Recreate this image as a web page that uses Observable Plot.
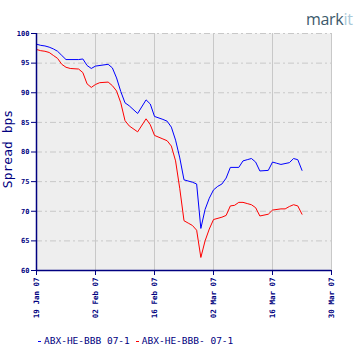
<!DOCTYPE html>
<html>
<head>
<meta charset="utf-8">
<script src="https://cdn.jsdelivr.net/npm/d3@7"></script>
<script src="https://cdn.jsdelivr.net/npm/@observablehq/plot@0.6"></script>
<style>
  body { margin: 0; background: #fff; }
  #wrap { position: relative; width: 360px; height: 360px; overflow: hidden; }
  #chart { position: absolute; left: 0; top: 0; }
  #logo { position: absolute; left: 306px; top: 8px; font: 16px "Open Sans", sans-serif; color: #3d5a6c; letter-spacing: -0.3px; }
  #logo span { color: #a9c9d9; }
  #legend { position: absolute; left: 38px; top: 335px; font: 9.5px "DejaVu Sans Mono", monospace; color: #000080; white-space: nowrap; }
  #legend .sw { display: inline-block; width: 3px; height: 1px; vertical-align: middle; margin-right: 3px; }
  svg text { font-family: "DejaVu Sans Mono", monospace; }
</style>
</head>
<body>
<div id="wrap">
  <div id="chart"></div>
  <div id="logo">mark<span>it</span></div>
  <div id="legend"></div>
</div>
<script>
const seriesNames = ["ABX-HE-BBB 07-1", "ABX-HE-BBB- 07-1"];
const seriesColors = ["#0000ff", "#ff0000"];
const xTickLabels = ["2007-01-19", "2007-02-02", "2007-02-16", "2007-03-02", "2007-03-16", "2007-03-30"];
const yTicks = [60, 65, 70, 75, 80, 85, 90, 95, 100];

const blueDates = ["2007-01-19","2007-01-20","2007-01-21","2007-01-22","2007-01-23","2007-01-24","2007-01-25","2007-01-26",
  "2007-01-29","2007-01-30","2007-01-31","2007-02-01","2007-02-02","2007-02-05","2007-02-06","2007-02-07","2007-02-08",
  "2007-02-09","2007-02-10","2007-02-12","2007-02-14","2007-02-15","2007-02-16","2007-02-18","2007-02-19","2007-02-20",
  "2007-02-21","2007-02-22","2007-02-23","2007-02-25","2007-02-26","2007-02-27","2007-02-28","2007-03-01","2007-03-02",
  "2007-03-03","2007-03-04","2007-03-05","2007-03-06","2007-03-08","2007-03-09","2007-03-10","2007-03-11","2007-03-12",
  "2007-03-13","2007-03-15","2007-03-16","2007-03-17","2007-03-18","2007-03-20","2007-03-21","2007-03-22","2007-03-23"];
const blueValues = [98.2,98.0,97.9,97.7,97.4,97.0,96.3,95.6,
  95.6,95.7,94.6,94.1,94.5,94.8,94.2,92.5,90.2,
  88.3,87.8,86.5,88.8,88.1,86.0,85.5,85.2,84.2,
  82.0,79.0,75.3,74.9,74.6,67.1,70.3,72.2,73.6,
  74.2,74.6,75.6,77.4,77.4,78.5,78.7,78.9,78.3,
  76.8,76.9,78.3,78.1,77.9,78.2,78.9,78.7,76.9];

const redDates = ["2007-01-19","2007-01-20","2007-01-21","2007-01-22","2007-01-23","2007-01-24","2007-01-25","2007-01-26",
  "2007-01-27","2007-01-29","2007-01-30","2007-01-31","2007-02-01","2007-02-02","2007-02-03","2007-02-05","2007-02-06",
  "2007-02-07","2007-02-08","2007-02-09","2007-02-10","2007-02-12","2007-02-14","2007-02-15","2007-02-16","2007-02-18",
  "2007-02-19","2007-02-20","2007-02-21","2007-02-22","2007-02-23","2007-02-24","2007-02-25","2007-02-26","2007-02-27",
  "2007-02-28","2007-03-01","2007-03-02","2007-03-04","2007-03-05","2007-03-06","2007-03-07","2007-03-08","2007-03-09",
  "2007-03-10","2007-03-11","2007-03-12","2007-03-13","2007-03-15","2007-03-16","2007-03-18","2007-03-19","2007-03-20",
  "2007-03-21","2007-03-22","2007-03-23"];
const redValues = [97.3,97.1,97.0,96.8,96.3,95.8,94.8,94.3,
  94.1,94.0,93.4,91.5,90.9,91.4,91.7,91.8,91.2,
  90.3,88.3,85.3,84.4,83.4,85.6,84.6,82.8,82.2,
  81.9,81.0,78.5,73.8,68.4,68.0,67.6,66.8,62.2,
  65.0,67.0,68.6,69.0,69.3,70.9,71.0,71.5,71.5,
  71.3,71.1,70.6,69.2,69.5,70.2,70.4,70.4,70.8,
  71.1,70.9,69.5];

const parse = d3.utcParse("%Y-%m-%d");
const blue = blueDates.map((d, i) => ({date: parse(d), value: blueValues[i]}));
const red = redDates.map((d, i) => ({date: parse(d), value: redValues[i]}));
const xTicks = xTickLabels.map(parse);
const navy = "#000080";

const chart = Plot.plot({
  width: 360,
  height: 330,
  marginLeft: 36,
  marginRight: 29,
  marginTop: 33,
  marginBottom: 60,
  style: {color: navy, background: "transparent", fontFamily: "DejaVu Sans Mono, monospace"},
  x: {type: "utc", domain: [xTicks[0], xTicks[xTicks.length - 1]]},
  y: {domain: [60, 100]},
  marks: [
    Plot.frame({fill: "#eeeeee", stroke: null}),
    Plot.ruleY(yTicks, {stroke: "#c8c8c8", strokeDasharray: "6,3,2,3"}),
    Plot.ruleX(xTicks, {stroke: "#c8c8c8"}),
    Plot.lineY(blue, {x: "date", y: "value", stroke: seriesColors[0], strokeWidth: 1}),
    Plot.lineY(red, {x: "date", y: "value", stroke: seriesColors[1], strokeWidth: 1}),
    Plot.axisY({ticks: yTicks, tickSize: 5, tickPadding: 2, fontSize: 7, fontWeight: "bold", label: null, fill: navy, stroke: navy}),
    Plot.axisX({ticks: xTicks, tickSize: 5, tickPadding: 2, tickRotate: -90, fontSize: 7.5, fontWeight: "bold",
      tickFormat: d3.utcFormat("%d %b %y"), label: null, fill: navy, stroke: navy}),
    Plot.ruleX([xTicks[0]], {stroke: navy, strokeWidth: 1.5}),
    Plot.ruleY([60], {stroke: navy, strokeWidth: 1.5}),
    Plot.text(["Spread bps"], {frameAnchor: "left", textAnchor: "middle", dx: -25, dy: -3, rotate: -90, fontSize: 13,
      fontFamily: "DejaVu Sans, sans-serif", fill: navy, lineAnchor: "bottom"})
  ]
});
document.getElementById("chart").appendChild(chart);

const legend = document.getElementById("legend");
seriesNames.forEach((n, i) => {
  const sw = document.createElement("span");
  sw.className = "sw";
  sw.style.background = seriesColors[i];
  legend.appendChild(sw);
  const t = document.createElement("span");
  t.textContent = n;
  t.style.marginRight = "6px";
  legend.appendChild(t);
});
</script>
</body>
</html>
